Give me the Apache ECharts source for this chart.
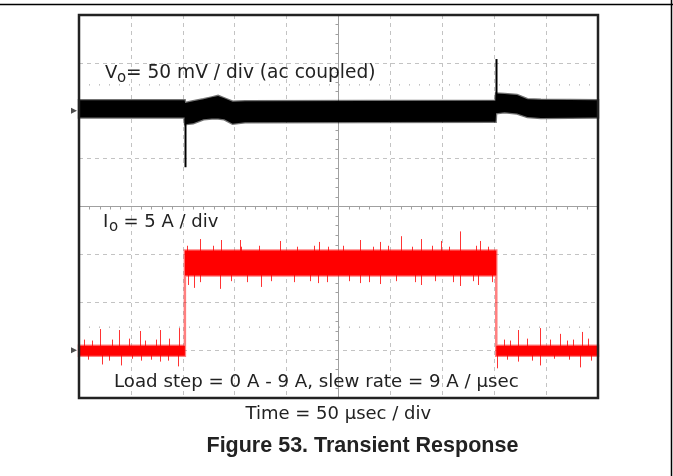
<!DOCTYPE html>
<html>
<head>
<meta charset="utf-8">
<style>
  html, body { margin: 0; padding: 0; background: #fff; }
  #chart { width: 673px; height: 476px; }
</style>
<script src="https://cdn.jsdelivr.net/npm/echarts@6/dist/echarts.min.js"></script>
</head>
<body>
<div id="chart"></div>
<script>
// time in µs (50 µs/div), Vo in mV (50 mV/div, ac coupled), Io in A (5 A/div)
// envelope rows: [time, upper edge, lower edge]
const voEnvelope = [
  [0, 11, -7], [101.8, 11, -7], [102.2, 8, -14], [110, 10, -13],
  [120, 12, -9], [128, 14, -8], [134, 15.5, -8], [140, 13, -9],
  [148, 9.5, -13.5], [160, 10, -12], [401.4, 10.5, -11.5], [401.8, 18, -2.5],
  [410, 17.5, -1.5], [422, 16.5, -3], [432, 12, -6.5], [445, 11.5, -7.5],
  [500, 11, -7]
];
// spike rows: [time, from, to]
const voSpikes = [[102, -8, -59], [402, 10, 54]];

const ioEnvelope = [
  [0, 0.45, -0.6], [102, 0.45, -0.6], [102, 10.4, 7.8],
  [402, 10.4, 7.8], [402, 0.45, -0.6], [500, 0.45, -0.6]
];
const ioSpikes = [
  // 0 A level, before the step
  [20, 0.4, 2.2], [39, 0.4, 2.1], [59, 0.4, 2.0], [78, 0.4, 2.1], [96, 0.4, 2.3],
  [22, -0.5, -1.5], [40, -0.5, -1.6], [60, -0.5, -1.1], [78, -0.5, -1.2], [95, -0.5, -1.7],
  [5, 0.4, 1.1], [13, 0.4, 1.0], [32, 0.4, 1.1], [48, 0.4, 1.2], [64, 0.4, 1.0], [74, 0.4, 1.1], [87, 0.4, 1.2],
  [9, -0.5, -1.0], [29, -0.5, -1.1], [51, -0.5, -0.9], [69, -0.5, -1.0], [86, -0.5, -1.1],
  // 9 A level
  [104, 10, 10.9], [117, 10, 11.6], [136.5, 10, 11.5], [155, 10, 11.5], [194, 10, 11.4],
  [231, 10, 11.3], [271, 10, 11.5], [290, 10, 11.3], [310, 10, 11.9], [329, 10, 11.6],
  [349, 10, 11.4], [367, 10, 12.4], [386.5, 10, 11.4],
  [105, 8, 6.8], [110.6, 8, 6.5], [135.6, 8, 6.4], [175, 8, 6.6], [230, 8, 7.0],
  [271, 8, 7.0], [290, 8, 6.9], [329, 8, 6.8], [367, 8, 6.7], [384.6, 8, 6.8],
  [129, 10, 10.9], [156, 10, 10.8], [173, 10, 10.9], [210, 10, 10.8], [226, 10, 10.9], [240, 10, 10.8],
  [254, 10, 10.9], [283, 10, 10.8], [298, 10, 10.9], [321, 10, 10.8], [340, 10, 10.9], [356, 10, 10.8],
  [382, 10, 10.9], [394, 10, 10.8],
  [117, 8, 7.1], [146, 8, 7.2], [162, 8, 7.1], [185, 8, 7.2], [207, 8, 7.1], [223, 8, 7.2], [239, 8, 7.1],
  [260, 8, 7.2], [279, 8, 7.1], [305, 8, 7.2], [324, 8, 7.1], [343, 8, 7.2], [360, 8, 7.1], [380, 8, 7.2],
  [398, 8, 7.1],
  // back to 0 A
  [423, 0.4, 2.1], [444, 0.4, 2.3], [463.5, 0.4, 1.7], [484.6, 0.4, 1.9],
  [403, -0.5, -1.9], [423, -0.5, -1.2], [444, -0.5, -1.6], [482.7, -0.5, -1.8],
  [409, 0.4, 1.1], [415, 0.4, 1.0], [432, 0.4, 1.2], [454, 0.4, 1.1], [470, 0.4, 1.0], [476, 0.4, 1.1], [490, 0.4, 1.2],
  [412, -0.5, -1.0], [436, -0.5, -1.1], [458, -0.5, -0.9], [472, -0.5, -1.0], [493, -0.5, -1.1]
];
const cursorDivs = [2.54, -2.52];

const chart = echarts.init(document.getElementById('chart'));

function band(points, fill, edge) {
  return function (params, api) {
    if (params.dataIndex !== 0) return null;
    const top = points.map(p => api.coord([p[0], p[1]]));
    const bot = points.map(p => api.coord([p[0], p[2]])).reverse();
    return {
      type: 'polygon',
      shape: { points: top.concat(bot) },
      style: { fill: fill, stroke: edge, lineWidth: 2.5 }
    };
  };
}

function spikes(color, width) {
  return function (params, api) {
    const a = api.coord([api.value(0), api.value(1)]);
    const b = api.coord([api.value(0), api.value(2)]);
    const x = Math.round(a[0]) + 0.5;
    return {
      type: 'line',
      shape: { x1: x, y1: a[1], x2: x, y2: b[1] },
      style: { stroke: color, lineWidth: width }
    };
  };
}

const gridAxis = {
  type: 'value',
  interval: 1,
  axisLabel: { show: false },
  axisTick: { show: false },
  axisLine: { show: true, onZero: true, onZeroAxisIndex: 0, lineStyle: { color: '#a0a0a0', width: 1 } },
  minorTick: { show: true, splitNumber: 5, length: 3, lineStyle: { color: '#a0a0a0' } },
  splitLine: { show: true, lineStyle: { color: '#c3c3c3', width: 1, type: [4, 4] } }
};

const marker = {
  type: 'scatter',
  xAxisIndex: 1,
  data: [[0, 0]],
  symbol: 'path://M0,0L10,5L0,10Z',
  symbolSize: [6, 6],
  symbolOffset: [-5, 0],
  itemStyle: { color: '#222' },
  clip: false,
  silent: true,
  z: 5
};

const font = '18px "DejaVu Sans"';
const ink = '#222';
function label(text, x, y, f) {
  return { type: 'text', x: x, y: y, z: 10, style: { text: text, font: f || font, fill: ink } };
}

chart.setOption({
  animation: false,
  grid: { left: 79, top: 15, width: 519, height: 383 },
  xAxis: [
    Object.assign({}, gridAxis, { min: -5, max: 5 }),
    { type: 'value', min: 0, max: 500, interval: 50, show: false }
  ],
  yAxis: [
    Object.assign({}, gridAxis, { min: -4, max: 4 }),
    { type: 'value', min: -300, max: 100, show: false },
    { type: 'value', min: -5, max: 35, show: false }
  ],
  series: cursorDivs.map(level => ({
    type: 'line',
    xAxisIndex: 0,
    yAxisIndex: 0,
    data: [[-5, level], [5, level]],
    symbol: 'none',
    silent: true,
    lineStyle: { color: '#9a9a9a', width: 1, type: [1, 9] }
  })).concat([
    {
      type: 'custom', xAxisIndex: 1, yAxisIndex: 1, data: voEnvelope,
      renderItem: band(voEnvelope, '#000', 'rgba(0,0,0,0.55)'), silent: true, z: 3
    },
    {
      type: 'custom', xAxisIndex: 1, yAxisIndex: 1, data: voSpikes,
      renderItem: spikes('#000', 2), silent: true, z: 3
    },
    {
      type: 'custom', xAxisIndex: 1, yAxisIndex: 2, data: ioEnvelope,
      renderItem: band(ioEnvelope, '#ff0000', 'rgba(255,0,0,0.5)'), silent: true, z: 3
    },
    {
      type: 'custom', xAxisIndex: 1, yAxisIndex: 2, data: ioSpikes,
      renderItem: spikes('rgba(255,0,0,0.8)', 1), silent: true, z: 3
    },
    Object.assign({}, marker, { yAxisIndex: 1 }),
    Object.assign({}, marker, { yAxisIndex: 2 })
  ]),
  graphic: [
    { type: 'rect', z: 20, shape: { x: 79, y: 15, width: 519, height: 383 },
      style: { fill: null, stroke: '#222', lineWidth: 2.5 } },
    { type: 'line', shape: { x1: 0, y1: 4.5, x2: 673, y2: 4.5 }, style: { stroke: '#000', lineWidth: 1.5 } },
    { type: 'line', shape: { x1: 671.5, y1: 0, x2: 671.5, y2: 476 }, style: { stroke: '#000', lineWidth: 1.5 } },
    label('V', 105, 64),
    label('o', 117, 71, '15px "DejaVu Sans"'),
    label('= 50 mV / div (ac coupled)', 126, 64, '18.6px "DejaVu Sans"'),
    label('I', 103, 213),
    label('o', 109, 220, '15px "DejaVu Sans"'),
    label('= 5 A / div', 123.5, 213),
    label('Load step = 0 A - 9 A, slew rate = 9 A / µsec', 114, 373.5, '18.2px "DejaVu Sans"'),
    label('Time = 50 µsec / div', 245.5, 405.5),
    label('Figure 53. Transient Response', 206.5, 435, 'bold 21.5px "Liberation Sans"')
  ]
});
</script>
</body>
</html>
